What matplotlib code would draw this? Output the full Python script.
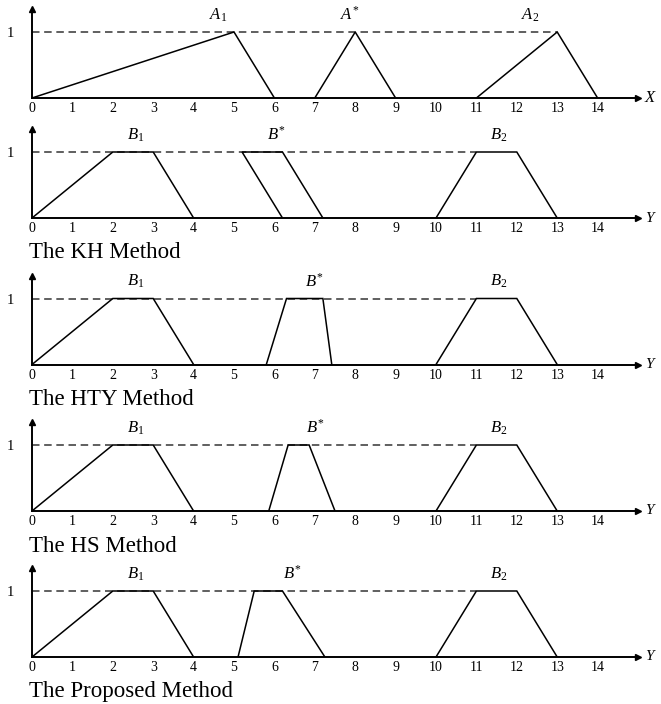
import numpy as np
import matplotlib.pyplot as plt

plt.rcParams['font.family'] = 'Liberation Serif'
plt.rcParams['mathtext.fontset'] = 'custom'
plt.rcParams['mathtext.rm'] = 'Liberation Serif'
plt.rcParams['mathtext.it'] = 'Liberation Serif:italic'

# Membership functions: (x breakpoints, membership grades)
A1_x, A1_y = [0, 5, 6], [0, 1, 0]
Astar_x, Astar_y = [7, 8, 9], [0, 1, 0]
A2_x, A2_y = [11, 13, 14], [0, 1, 0]

B1_x, B1_y = [0, 2, 3, 4], [0, 1, 1, 0]
B2_x, B2_y = [10, 11, 12, 13], [0, 1, 1, 0]

Bstar_KH_x = [6.2, 5.2, 6.2, 7.2]
Bstar_HTY_x = [5.8, 6.3, 7.2, 7.42]
Bstar_HS_x = [5.86, 6.34, 6.86, 7.5]
Bstar_prop_x = [5.1, 5.5, 6.2, 7.25]
Bstar_y = [0, 1, 1, 0]

method_names = ["The KH Method", "The HTY Method", "The HS Method", "The Proposed Method"]
xticks = list(range(15))

# label positions (x) for each set name
A_label_x = [4.6, 7.86, 12.34]
B1_label_x, B2_label_x = 2.57, 11.55
Bstar_label_x = [6.05, 6.98, 7.0, 6.44]

W, H = 661, 704
fig = plt.figure(figsize=(W / 100, H / 100), dpi=100)

x0_px, x_end_px = 32, 638
unit_px = 40.4
baselines = [98, 218, 364.5, 511, 657]
ax_h_px = 89
ytop = ax_h_px / 66.0


def make_axes(base):
    ax = fig.add_axes([x0_px / W, (H - base) / H, (x_end_px - x0_px) / W, ax_h_px / H])
    ax.set_xlim(0, (x_end_px - x0_px) / unit_px)
    ax.set_ylim(0, ytop)
    for s in ['top', 'right']:
        ax.spines[s].set_visible(False)
    for s in ['left', 'bottom']:
        ax.spines[s].set_linewidth(1.4)
    ax.set_xticks(xticks)
    ax.set_xticklabels([str(t) for t in xticks], fontsize=10)
    ax.set_yticks([1])
    ax.set_yticklabels(['1'], fontsize=10.5)
    ax.tick_params(axis='x', length=0, pad=3)
    ax.tick_params(axis='y', length=0, pad=13)
    ax.patch.set_visible(False)
    # arrow heads on the axes
    ax.plot(1, 0, '>k', ms=5, transform=ax.transAxes, clip_on=False)
    ax.plot(0, 1, '^k', ms=5, transform=ax.transAxes, clip_on=False)
    return ax


def sublabel(ax, x, text):
    ax.text(x, 1.26, text, fontsize=12, ha='center', va='center')


line_kw = dict(color='black', lw=1.1, solid_joinstyle='miter')
dash_kw = dict(color='#444444', lw=1.2, dashes=(4.5, 2.8))

# top panel: antecedent sets on X
ax = make_axes(baselines[0])
ax.plot([0, 13], [1, 1], **dash_kw)
for xs, ys in [(A1_x, A1_y), (Astar_x, Astar_y), (A2_x, A2_y)]:
    ax.plot(xs, ys, **line_kw)
for lx, t in zip(A_label_x, [r'$A_{\mathit{1}}$', r'$A^{*}$', r'$A_{\mathit{2}}$']):
    sublabel(ax, lx, t)
ax.text(1.011, 0, 'X', transform=ax.transAxes, fontsize=12, style='italic', va='center', ha='left')

# method panels: consequent sets on Y
bstars = [Bstar_KH_x, Bstar_HTY_x, Bstar_HS_x, Bstar_prop_x]
for i, (base, bx, name) in enumerate(zip(baselines[1:], bstars, method_names)):
    ax = make_axes(base)
    ax.plot([0, 11], [1, 1], **dash_kw)
    ax.plot(B1_x, B1_y, **line_kw)
    ax.plot(B2_x, B2_y, **line_kw)
    ax.plot(bx, Bstar_y, **line_kw)
    sublabel(ax, B1_label_x, r'$B_{\mathit{1}}$')
    sublabel(ax, Bstar_label_x[i], r'$B^{*}$')
    sublabel(ax, B2_label_x, r'$B_{\mathit{2}}$')
    ax.text(1.011, 0, 'Y', transform=ax.transAxes, fontsize=11, style='italic', va='center', ha='left')
    fig.text(29 / W, (H - (base + 35)) / H, name, fontsize=16.5, ha='left', va='center')

fig.savefig('out.png', dpi=100)
